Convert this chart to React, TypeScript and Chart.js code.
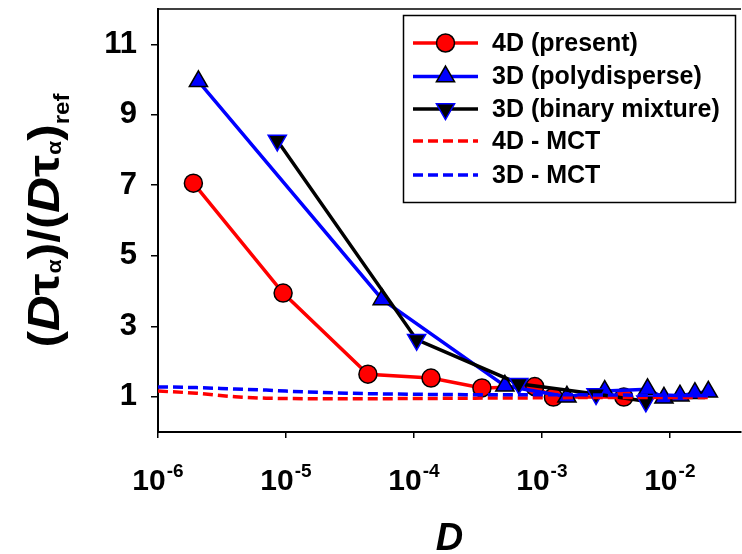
import React, { useEffect, useRef } from "react";
import { Chart, registerables } from "chart.js";

Chart.register(...registerables);

// ---------- data ----------
const presentD = [1.89e-6, 9.5e-6, 4.37e-5, 1.36e-4, 3.4e-4, 8.8e-4, 1.23e-3, 4.37e-3];
const presentV = [7.06, 3.94, 1.64, 1.53, 1.25, 1.29, 0.99, 0.99];

const polyD = [2.07e-6, 5.65e-5, 5.14e-4, 1.57e-3, 3.1e-3, 6.7e-3, 9.0e-3, 1.2e-2, 1.57e-2, 2.0e-2];
const polyV = [9.95, 3.76, 1.31, 1.0, 1.16, 1.21, 0.97, 1.03, 1.1, 1.14];

const binaryD = [8.55e-6, 1.05e-4, 6.6e-4, 2.65e-3, 6.5e-3];
const binaryV = [8.27, 2.62, 1.37, 1.08, 0.87];

const mctD = [1e-6, 2e-6, 4e-6, 7e-6, 1e-5, 3e-5, 1e-4, 3e-4, 1e-3, 3e-3, 1e-2, 2e-2];
const mct4V = [1.16, 1.1, 1.0, 0.96, 0.95, 0.94, 0.95, 0.96, 0.97, 0.98, 0.98, 0.98];
const mct3V = [1.28, 1.26, 1.22, 1.19, 1.16, 1.1, 1.07, 1.06, 1.06, 1.05, 1.04, 1.03];

const xDecades = [-6, -5, -4, -3, -2];
const yTicks = [1, 3, 5, 7, 9, 11];

const legendLabels = ["4D (present)", "3D (polydisperse)", "3D (binary mixture)", "4D - MCT", "3D - MCT"];

const RED = "#ff0000";
const BLUE = "#0000ff";
const BLACK = "#000000";
const FONT = "'Liberation Sans', Arial, sans-serif";

const zip = (xs: number[], ys: number[]) => xs.map((x, i) => ({ x, y: ys[i] }));

function drawMarker(ctx: CanvasRenderingContext2D, kind: string, x: number, y: number, fill: string, stroke: string) {
  ctx.save();
  ctx.fillStyle = fill;
  ctx.strokeStyle = stroke;
  ctx.lineWidth = 1.5;
  ctx.beginPath();
  if (kind === "circle") {
    ctx.arc(x, y, 9, 0, Math.PI * 2);
  } else {
    const r = 10.5;
    let a = kind === "down" ? Math.PI : 0;
    for (let i = 0; i < 3; i++) {
      const px = x + Math.sin(a) * r;
      const py = y - Math.cos(a) * r;
      if (i === 0) ctx.moveTo(px, py);
      else ctx.lineTo(px, py);
      a += (2 * Math.PI) / 3;
    }
    ctx.closePath();
  }
  ctx.fill();
  ctx.stroke();
  ctx.restore();
}

const zeroPad = (scale: any) => {
  scale.paddingTop = 0;
  scale.paddingBottom = 0;
  scale.paddingLeft = 0;
  scale.paddingRight = 0;
};

const decorPlugin = {
  id: "decor",
  afterDraw(chart: any) {
    const ctx: CanvasRenderingContext2D = chart.ctx;
    const { left, right, top, bottom } = chart.chartArea;
    const xs = chart.scales.x;
    ctx.save();
    // top frame line
    ctx.strokeStyle = BLACK;
    ctx.lineWidth = 1.5;
    ctx.beginPath();
    ctx.moveTo(left, top);
    ctx.lineTo(right, top);
    ctx.stroke();

    // x tick labels with superscripts
    ctx.fillStyle = BLACK;
    ctx.textBaseline = "alphabetic";
    ctx.textAlign = "left";
    const mainF = `bold 30px ${FONT}`;
    const supF = `bold 19px ${FONT}`;
    for (const e of xDecades) {
      const px = xs.getPixelForValue(Math.pow(10, e));
      ctx.font = mainF;
      const w1 = ctx.measureText("10").width;
      ctx.font = supF;
      const sup = String(e);
      const w2 = ctx.measureText(sup).width;
      const start = px - (w1 + w2 + 1) / 2;
      ctx.font = mainF;
      ctx.fillText("10", start, 490);
      ctx.font = supF;
      ctx.fillText(sup, start + w1 + 1, 477);
    }

    // x title
    ctx.font = `italic bold 38px ${FONT}`;
    ctx.textAlign = "center";
    ctx.fillText("D", (left + right) / 2, 550);

    // y title
    const mainT = `bold 45px ${FONT}`;
    const mainI = `italic bold 45px ${FONT}`;
    const subT = `bold 21px ${FONT}`;
    const refT = `bold 22px ${FONT}`;
    const segs = [
      { t: "(", f: mainT, dy: 0 },
      { t: "D", f: mainI, dy: 0 },
      { t: "τ", f: mainT, dy: 0 },
      { t: "α", f: subT, dy: 2 },
      { t: ")", f: mainT, dy: 0 },
      { t: "/", f: mainT, dy: 0 },
      { t: "(", f: mainT, dy: 0 },
      { t: "D", f: mainI, dy: 0 },
      { t: "τ", f: mainT, dy: 0 },
      { t: "α", f: subT, dy: 2 },
      { t: ")", f: mainT, dy: 0 },
      { t: "ref", f: refT, dy: 10 },
    ];
    let W = 0;
    const widths: number[] = [];
    for (const s of segs) {
      ctx.font = s.f;
      const w = ctx.measureText(s.t).width;
      widths.push(w);
      W += w;
    }
    const L = 254;
    const sx = L / W;
    ctx.save();
    ctx.translate(59, (top + bottom) / 2);
    ctx.rotate(-Math.PI / 2);
    ctx.scale(sx, 1);
    ctx.textAlign = "left";
    let cx = -W / 2;
    segs.forEach((s, i) => {
      ctx.font = s.f;
      ctx.fillText(s.t, cx, s.dy);
      cx += widths[i];
    });
    ctx.restore();

    // legend
    const bx = 403.5, by = 15.5, bw = 332, bh = 187;
    ctx.fillStyle = "#ffffff";
    ctx.fillRect(bx, by, bw, bh);
    ctx.strokeStyle = BLACK;
    ctx.lineWidth = 1.5;
    ctx.strokeRect(bx, by, bw, bh);
    const rows = [43, 76.5, 109, 141, 175];
    const styles = [
      { c: RED, dash: false, m: "circle", f: RED, s: BLACK },
      { c: BLUE, dash: false, m: "up", f: BLUE, s: BLACK },
      { c: BLACK, dash: false, m: "down", f: BLACK, s: BLUE },
      { c: RED, dash: true, m: "", f: "", s: "" },
      { c: BLUE, dash: true, m: "", f: "", s: "" },
    ];
    rows.forEach((ry, i) => {
      const st = styles[i];
      ctx.save();
      ctx.strokeStyle = st.c;
      ctx.lineWidth = 3.5;
      ctx.lineCap = "butt";
      if (st.dash) ctx.setLineDash([10, 5]);
      ctx.beginPath();
      ctx.moveTo(413, ry);
      ctx.lineTo(478, ry);
      ctx.stroke();
      ctx.restore();
      if (st.m) drawMarker(ctx, st.m, 445.5, ry, st.f, st.s);
      ctx.fillStyle = BLACK;
      ctx.font = `bold 25px ${FONT}`;
      ctx.textAlign = "left";
      ctx.textBaseline = "middle";
      ctx.fillText(legendLabels[i], 492, ry + 1);
    });
    ctx.restore();
  },
};

export default function App() {
  const ref = useRef<HTMLCanvasElement | null>(null);
  useEffect(() => {
    document.body.style.margin = "0";
    const canvas = ref.current;
    if (!canvas) return;
    const common = { showLine: true, tension: 0 };
    const chart = new Chart(canvas, {
      type: "scatter",
      data: {
        datasets: [
          {
            label: "4D - MCT",
            data: zip(mctD, mct4V),
            borderColor: RED,
            backgroundColor: RED,
            borderWidth: 3.5,
            borderDash: [10, 5],
            pointRadius: 0,
            cubicInterpolationMode: "monotone",
            showLine: true,
            order: 1,
          },
          {
            label: "3D - MCT",
            data: zip(mctD, mct3V),
            borderColor: BLUE,
            backgroundColor: BLUE,
            borderWidth: 3.5,
            borderDash: [10, 5],
            pointRadius: 0,
            cubicInterpolationMode: "monotone",
            showLine: true,
            order: 0,
          },
          {
            ...common,
            label: "4D (present)",
            data: zip(presentD, presentV),
            borderColor: RED,
            backgroundColor: RED,
            borderWidth: 3.5,
            pointStyle: "circle",
            pointRadius: 9,
            pointBackgroundColor: RED,
            pointBorderColor: BLACK,
            pointBorderWidth: 1.5,
            order: 4,
          },
          {
            ...common,
            label: "3D (polydisperse)",
            data: zip(polyD, polyV),
            borderColor: BLUE,
            backgroundColor: BLUE,
            borderWidth: 3.5,
            pointStyle: "triangle",
            pointRadius: 10.5,
            pointBackgroundColor: BLUE,
            pointBorderColor: BLACK,
            pointBorderWidth: 1.5,
            order: 3,
          },
          {
            ...common,
            label: "3D (binary mixture)",
            data: zip(binaryD, binaryV),
            borderColor: BLACK,
            backgroundColor: BLACK,
            borderWidth: 3.5,
            pointStyle: "triangle",
            pointRotation: 180,
            pointRadius: 10.5,
            pointBackgroundColor: BLACK,
            pointBorderColor: BLUE,
            pointBorderWidth: 1.5,
            order: 2,
          },
        ],
      } as any,
      options: {
        responsive: false,
        animation: false,
        devicePixelRatio: 1,
        layout: { autoPadding: false, padding: { top: 9, right: 1, left: 0, bottom: 0 } },
        plugins: { legend: { display: false }, tooltip: { enabled: false } },
        scales: {
          x: {
            type: "logarithmic",
            min: 1e-6,
            max: 0.036,
            position: "bottom",
            grid: { drawOnChartArea: false, drawTicks: true, tickLength: 6, color: BLACK, lineWidth: 1.5 },
            border: { display: true, color: BLACK, width: 2 },
            ticks: { display: false },
            afterBuildTicks: (scale: any) => {
              scale.ticks = xDecades.map((e) => ({ value: Math.pow(10, e) }));
            },
            afterFit: (scale: any) => {
              scale.height = 122;
              zeroPad(scale);
            },
          },
          y: {
            type: "linear",
            min: 0,
            max: 12,
            grid: { drawOnChartArea: false, drawTicks: true, tickLength: 7, color: BLACK, lineWidth: 1.5 },
            border: { display: true, color: BLACK, width: 2 },
            ticks: {
              color: BLACK,
              padding: 14,
              font: { family: FONT, weight: "bold", size: 31 },
            },
            afterBuildTicks: (scale: any) => {
              scale.ticks = yTicks.map((v) => ({ value: v }));
            },
            afterFit: (scale: any) => {
              scale.width = 158;
              zeroPad(scale);
            },
          },
        },
      } as any,
      plugins: [decorPlugin],
    });
    return () => chart.destroy();
  }, []);
  return (
    <div style={{ width: 742, height: 554 }}>
      <canvas ref={ref} width={742} height={554} style={{ display: "block" }} />
    </div>
  );
}
